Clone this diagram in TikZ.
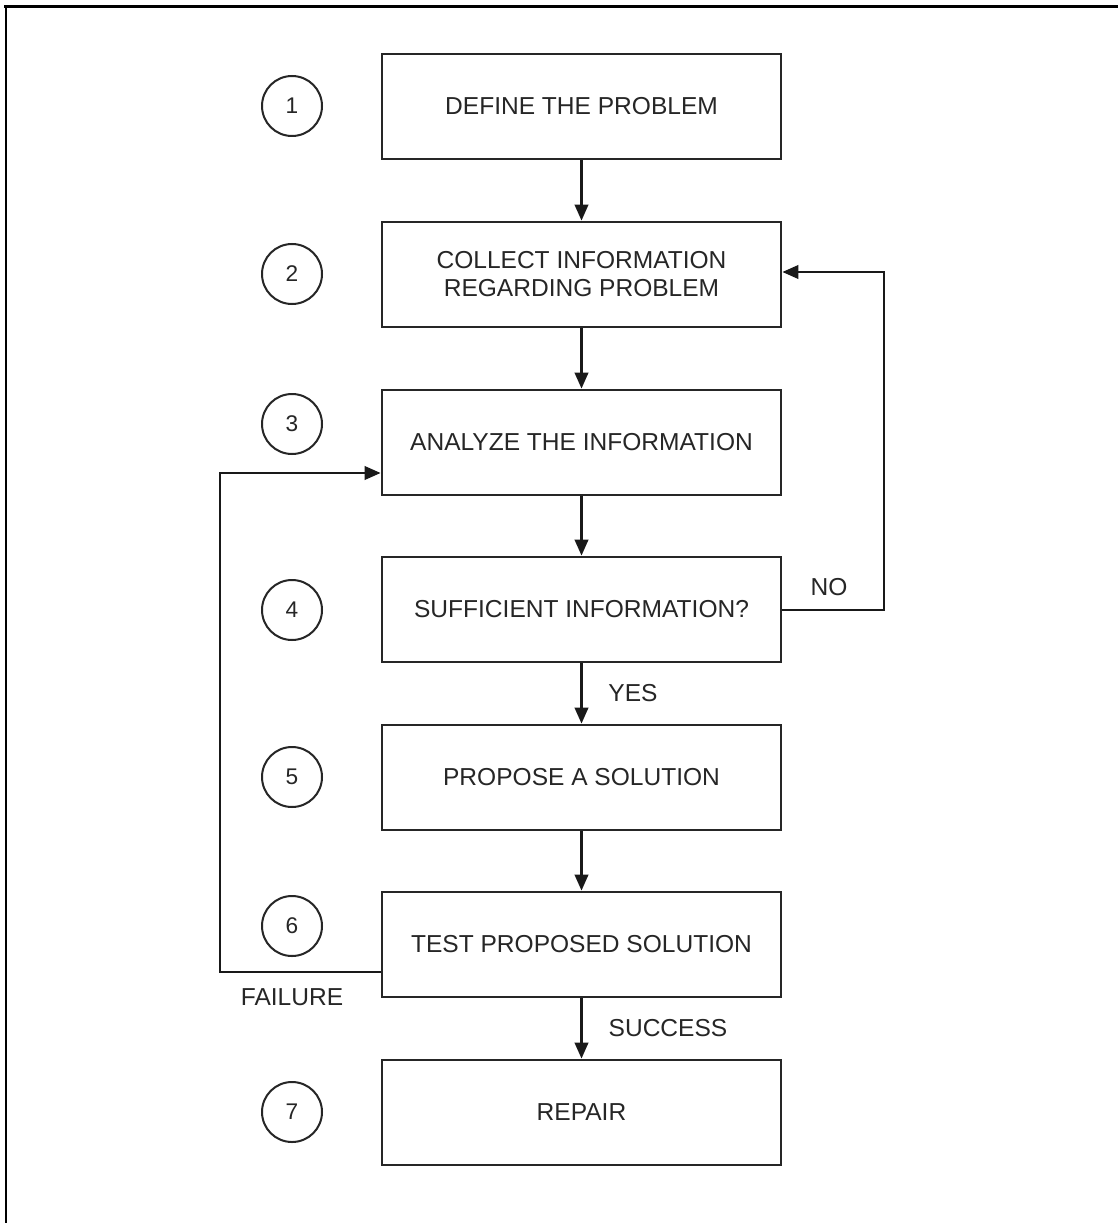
\documentclass[tikz,border=0pt]{standalone}
\usepackage{fontspec}
\setmainfont{Liberation Sans}
\usetikzlibrary{arrows.meta}
\begin{document}
\begin{tikzpicture}[x=0.75pt,y=-0.75pt,
  stepbox/.style={draw=black!85, line width=2pt, minimum width=399*0.75pt, minimum height=105*0.75pt, inner sep=0pt, align=center, font=\fontsize{18.4}{21}\selectfont, text=black!85},
  numcirc/.style={draw=black!85, circle, line width=1.5pt, minimum size=60*0.75pt, inner sep=0pt, font=\fontsize{17}{20}\selectfont, text=black!85},
  lbl/.style={font=\fontsize{18.4}{21}\selectfont, text=black!85, inner sep=0pt},
  conn/.style={draw=black!90, line width=2pt, -{Triangle[length=12pt,width=10pt]}}]
\useasboundingbox (0,0) rectangle (1118,1223);
\fill[white] (0,0) rectangle (1118,1223);
% frame
\draw[line width=2.6pt] (4,6.5) -- (1118,6.5);
\draw[line width=2.2pt] (6,6.5) -- (6,1223);
% boxes
\node[stepbox] (b1) at (581.5,106.5) {DEFINE THE PROBLEM};
\node[stepbox] (b2) at (581.5,274.5) {COLLECT INFORMATION\\REGARDING PROBLEM};
\node[stepbox] (b3) at (581.5,442.5) {ANALYZE THE INFORMATION};
\node[stepbox] (b4) at (581.5,609.5) {SUFFICIENT INFORMATION?};
\node[stepbox] (b5) at (581.5,777.5) {PROPOSE A SOLUTION};
\node[stepbox] (b6) at (581.5,944.5) {TEST PROPOSED SOLUTION};
\node[stepbox] (b7) at (581.5,1112.5) {REPAIR};
% circles
\node[numcirc] (c1) at (292,106) {1};
\node[numcirc] (c2) at (292,274) {2};
\node[numcirc] (c3) at (292,424) {3};
\node[numcirc] (c4) at (292,610) {4};
\node[numcirc] (c5) at (292,777) {5};
\node[numcirc] (c6) at (292,926) {6};
\node[numcirc] (c7) at (292,1112) {7};
% vertical connectors
\draw[conn] (b1.south) -- (b2.north);
\draw[conn] (b2.south) -- (b3.north);
\draw[conn] (b3.south) -- (b4.north);
\draw[conn] (b4.south) -- (b5.north);
\draw[conn] (b5.south) -- (b6.north);
\draw[conn] (b6.south) -- (b7.north);
% feedback NO
\coordinate (noA) at (884,610);
\coordinate (noB) at (884,272);
\draw[conn] (b4.east |- noA) -- (noA) -- (noB) -- (b2.east |- noB);
% feedback FAILURE
\coordinate (fA) at (220,972);
\coordinate (fB) at (220,473);
\draw[conn] (b6.west |- fA) -- (fA) -- (fB) -- (b3.west |- fB);
% labels
\node[lbl] (lno) at (829,587) {NO};
\node[lbl] (lyes) at (633,693) {YES};
\node[lbl] (lsucc) at (668,1028) {SUCCESS};
\node[lbl] (lfail) at (292,997) {FAILURE};
\end{tikzpicture}
\end{document}
